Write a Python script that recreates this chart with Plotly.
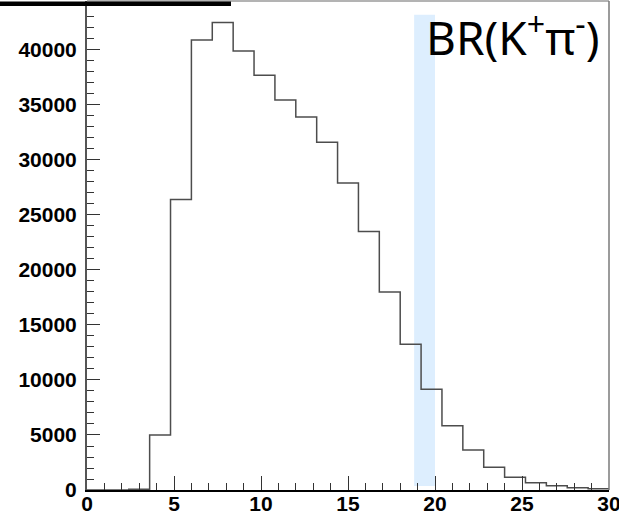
import plotly.graph_objects as go

# Histogram: 25 bins of width 1.2 between 0 and 30
bin_edges = [0.0, 1.2, 2.4, 3.6, 4.8, 6.0, 7.2, 8.4, 9.6, 10.8, 12.0, 13.2, 14.4,
             15.6, 16.8, 18.0, 19.2, 20.4, 21.6, 22.8, 24.0, 25.2, 26.4, 27.6, 28.8, 30.0]
counts = [0, 0, 60, 5000, 26400, 40900, 42500, 39900, 37700, 35450, 33900, 31600,
          27900, 23500, 18000, 13250, 9150, 5850, 3640, 2060, 1150, 670, 390, 210, 120]

band_x = [18.8, 20.0]
band_y = [360, 43200]

x_ticks = [0, 5, 10, 15, 20, 25, 30]
y_ticks = [0, 5000, 10000, 15000, 20000, 25000, 30000, 35000, 40000]

title_text = "BR(K<sup>+</sup>π<sup>-</sup>)"

W, H = 619, 513
ML, MR, MT, MB = 87, 10, 1, 23
PW = W - ML - MR
PH = H - MT - MB
Y_MAX = 44450

step_y = counts + [counts[-1]]

fig = go.Figure()
fig.add_trace(go.Scatter(
    x=bin_edges, y=step_y, mode="lines", line_shape="hv",
    line=dict(color="#4d4d4d", width=1.5), hoverinfo="skip", showlegend=False,
))

def px_x(p):
    return (p - ML) / PW

def px_y(p):
    return 1 - (p - MT) / PH

shapes = [
    dict(type="rect", xref="x", yref="y", x0=band_x[0], x1=band_x[1], y0=band_y[0], y1=band_y[1],
         fillcolor="#ddeefe", line=dict(width=0), layer="below"),
    # frame: top and right (gray)
    dict(type="line", xref="paper", yref="paper", x0=0, x1=1, y0=1, y1=1,
         line=dict(color="#9a9a9a", width=1.5)),
    dict(type="line", xref="paper", yref="paper", x0=1, x1=1, y0=0, y1=1,
         line=dict(color="#7a7a7a", width=1.5)),
    # bottom edge of the (cut-off) stats box at top left
    dict(type="rect", xref="paper", yref="paper", x0=px_x(0), x1=px_x(231), y0=px_y(6), y1=px_y(1.5),
         fillcolor="black", line=dict(width=0)),
]

fig.update_layout(
    width=W, height=H,
    margin=dict(l=ML, r=MR, t=MT, b=MB, pad=0, autoexpand=False),
    paper_bgcolor="white", plot_bgcolor="white",
    shapes=shapes,
    showlegend=False,
    annotations=[dict(
        text=title_text, xref="paper", yref="paper",
        x=px_x(601), y=px_y(35), xanchor="right", yanchor="middle",
        showarrow=False, font=dict(family="Noto Sans", size=46, color="black"),
    )],
)

fig.update_xaxes(
    range=[0, 30.0001], tickvals=x_ticks, ticktext=[str(v) for v in x_ticks],
    ticks="inside", ticklen=14, tickwidth=1.2, tickcolor="#333",
    minor=dict(ticks="inside", ticklen=7, dtick=1, tickcolor="#333", tickwidth=1.2, showgrid=False),
    showgrid=False, zeroline=False, showline=True, linecolor="black", linewidth=2,
    tickfont=dict(family="Liberation Sans", size=21, color="black", weight="bold"),
    ticklabelstandoff=-6, automargin=False, ticklabeloverflow="allow",
)
fig.update_yaxes(
    range=[0, Y_MAX], tickvals=y_ticks, ticktext=[str(v) for v in y_ticks],
    ticks="inside", ticklen=13, tickwidth=1.2, tickcolor="#333",
    minor=dict(ticks="inside", ticklen=7, dtick=1000, tickcolor="#333", tickwidth=1.2, showgrid=False),
    showgrid=False, zeroline=False, showline=True, linecolor="#555", linewidth=2,
    tickfont=dict(family="Liberation Sans", size=21, color="black", weight="bold"),
    ticklabelstandoff=4, automargin=False,
)

fig.write_html("out.html")
